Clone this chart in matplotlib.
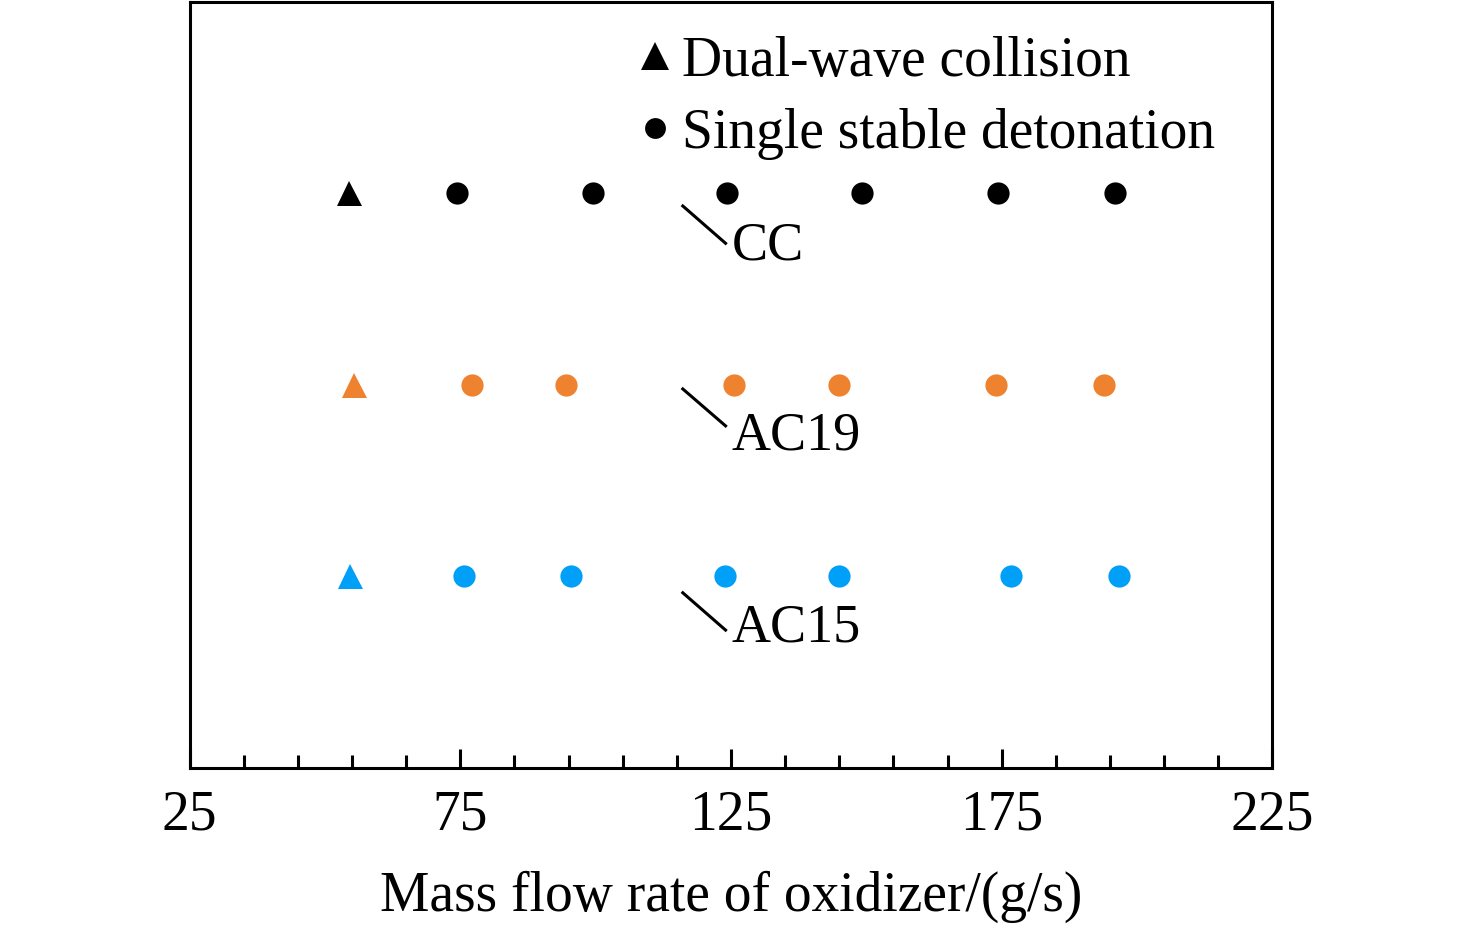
import matplotlib
matplotlib.use('Agg')
import matplotlib.pyplot as plt
from matplotlib.lines import Line2D

plt.rcParams['font.family'] = ['Liberation Serif', 'DejaVu Serif']
plt.rcParams['mathtext.fontset'] = 'stix'

# Mass flow rate of oxidizer (g/s) for each configuration; first point is dual-wave collision
cc_flow = [54.5, 74.4, 99.5, 124.2, 149.2, 174.3, 195.9]
ac19_flow = [55.4, 77.2, 94.6, 125.6, 144.9, 173.9, 193.8]
ac15_flow = [54.7, 75.7, 95.5, 123.9, 144.9, 176.8, 196.6]
cc_mode = ['dual', 'single', 'single', 'single', 'single', 'single', 'single']
ac19_mode = ['dual', 'single', 'single', 'single', 'single', 'single', 'single']
ac15_mode = ['dual', 'single', 'single', 'single', 'single', 'single', 'single']

config_names = ['CC', 'AC19', 'AC15']
config_rows = [3, 2, 1]
config_colors = ['#000000', '#EE822F', '#00A0F8']
config_flows = [cc_flow, ac19_flow, ac15_flow]
config_modes = [cc_mode, ac19_mode, ac15_mode]

x_ticks = [25, 75, 125, 175, 225]

# label leader lines: (x0, y0, x1, y1) and text anchor
leader_lines = [(116.1, 2.934, 124.0, 2.739),
                (116.1, 1.978, 124.0, 1.785),
                (116.1, 0.913, 124.0, 0.718)]
label_pos = [(125.1, 2.652), (125.1, 1.659), (125.1, 0.656)]

marker_for = {'dual': '^', 'single': 'o'}
size_for = {'dual': 18, 'single': 16}

fig = plt.figure(figsize=(14.76, 9.31), dpi=100)
ax = fig.add_axes([0.1284, 0.1756, 0.8621 - 0.1284, 0.9979 - 0.1756])

for name, row, color, flows, modes in zip(config_names, config_rows, config_colors,
                                          config_flows, config_modes):
    for mode in ['dual', 'single']:
        xs = [f for f, m in zip(flows, modes) if m == mode]
        ax.plot(xs, [row] * len(xs), linestyle='none', marker=marker_for[mode],
                markersize=size_for[mode], color=color, markeredgewidth=0)

for (x0, y0, x1, y1), (tx, ty), name in zip(leader_lines, label_pos, config_names):
    ax.plot([x0, x1], [y0, y1], color='black', linewidth=2.2)
    ax.text(tx, ty, name, fontsize=39, va='baseline', ha='left')

ax.set_xlim(25, 225)
ax.set_ylim(0, 4)
ax.set_xticks(x_ticks)
ax.set_xticks(range(35, 225, 10), minor=True)
ax.set_yticks([])
ax.tick_params(axis='x', which='major', direction='in', length=14, width=2.2,
               labelsize=40, pad=16)
ax.tick_params(axis='x', which='minor', direction='in', length=9.5, width=2.2)
for spine in ax.spines.values():
    spine.set_linewidth(2.2)

ax.set_xlabel('Mass flow rate of oxidizer/(g/s)', fontsize=40, labelpad=21)

handles = [Line2D([], [], linestyle='none', marker='^', markersize=20, color='black',
                  markeredgewidth=0),
           Line2D([], [], linestyle='none', marker='o', markersize=15, color='black',
                  markeredgewidth=0)]
ax.legend(handles, ['Dual-wave collision', 'Single stable detonation'],
          loc='upper left', bbox_to_anchor=(0.414, 0.956), frameon=False,
          fontsize=40, handlelength=0.6, handletextpad=0.2, borderpad=0,
          borderaxespad=0, labelspacing=0.36)

fig.savefig('out.png', dpi=100)
